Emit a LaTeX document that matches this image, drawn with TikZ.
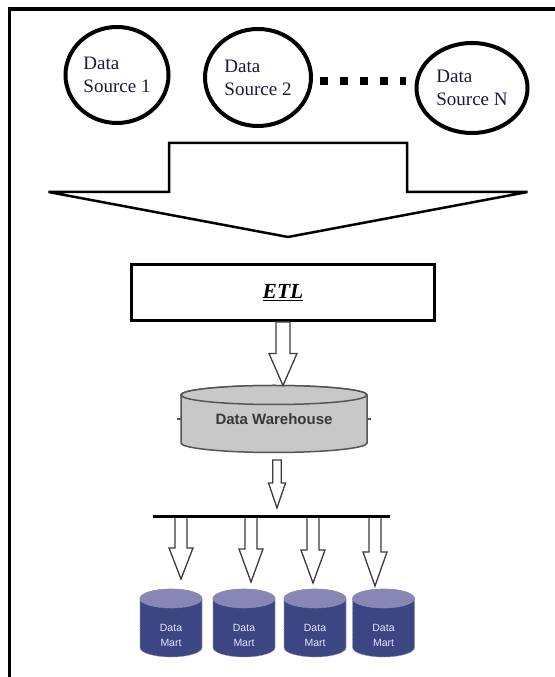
\documentclass[tikz,border=0pt]{standalone}
\usepackage{fontspec}
\setmainfont{Liberation Serif}
\newfontfamily\sansf{Liberation Sans}
\usetikzlibrary{shapes.geometric,calc,backgrounds}
\definecolor{srctext}{RGB}{25,25,60}
\definecolor{dwfill}{RGB}{200,200,200}
\definecolor{dwline}{RGB}{85,85,85}
\definecolor{martbody}{RGB}{60,70,130}
\definecolor{marttop}{RGB}{135,134,180}
\definecolor{martline}{RGB}{150,150,175}
\definecolor{arrline}{RGB}{60,60,60}

% #1 style, #2 start, #3 tip, #4 shaft half width, #5 head half width, #6 head length
\newcommand\blockarrow[6][]{%
  \draw[#1] let \p1=(#2), \p2=(#3) in
    (\x1-#4pt,\y1) -- (\x1-#4pt,\y2+#6pt) -- (\x1-#5pt,\y2+#6pt) -- (\x2,\y2)
    -- (\x1+#5pt,\y2+#6pt) -- (\x1+#4pt,\y2+#6pt) -- (\x1+#4pt,\y1) -- cycle;}

% #1 node, #2 rx, #3 top offset, #4 bottom offset, #5 ry, #6 body style, #7 top style
\newcommand\cylbg[7]{%
  \begin{scope}[on background layer]
    \path[#6] ($(#1.center)+(-#2,#3)$) -- ($(#1.center)+(-#2,#4)$)
      arc[start angle=180,end angle=360,x radius=#2,y radius=#5]
      -- ($(#1.center)+(#2,#3)$)
      arc[start angle=0,end angle=180,x radius=#2,y radius=#5] -- cycle;
    \path[#7] ($(#1.center)+(0,#3)$) ellipse[x radius=#2,y radius=#5];
  \end{scope}}

\begin{document}
\begin{tikzpicture}[x=1pt,y=1pt,
  src/.style={ellipse, draw, line width=4pt, inner sep=0pt, align=left,
    font=\fontsize{19}{23}\selectfont, text=srctext},
  dotsline/.style={line width=8pt, dash pattern=on 8pt off 12pt},
  bigarrow/.style={draw, line width=2.5pt, fill=white, line join=miter},
  hollowarrow/.style={draw=arrline, line width=1.3pt, fill=white, line join=miter},
  etlbox/.style={draw, line width=3pt, inner sep=0pt, minimum width=303pt,
    minimum height=56pt, font=\fontsize{21.5}{25}\selectfont},
  dwnode/.style={inner sep=0pt, minimum width=186pt, minimum height=48pt,
    font=\sansf\bfseries\fontsize{15}{18}\selectfont, text=black!78},
  dwbody/.style={fill=dwfill, draw=dwline, line width=1.5pt},
  martnode/.style={inner sep=0pt, align=center,
    font=\sansf\fontsize{10.5}{15}\selectfont, text=white!90!blue},
  martbody/.style={fill=martbody, draw=martline, line width=0.6pt, dash pattern=on 1.5pt off 1pt},
  marttop/.style={fill=marttop, draw=martline, line width=0.6pt, dash pattern=on 1.5pt off 1pt},
  busline/.style={line width=3pt},
  frame/.style={line width=3.5pt}]
\useasboundingbox (0,0) rectangle (554,677);

% frame
\draw[frame] (9.5,-3) -- (9.5,668) -- (560,668);

% sources
\node[src, minimum width=103pt, minimum height=96pt] (s1) at (117,602) {Data\\Source 1};
\node[src, minimum width=106pt, minimum height=97pt] (s2) at (258,599.5) {Data\\Source 2};
\node[src, minimum width=111pt, minimum height=90pt] (sN) at (472,589) {Data\\Source N};
\coordinate (d1) at ($(s2.east)+(7,-3.5)$);
\draw[dotsline, shorten >=8.5pt] (d1) -- (d1 -| sN.west);

% big arrow
\coordinate (bigtop) at (288,534);
\coordinate (bigtip) at (288,440);
\blockarrow[bigarrow]{bigtop}{bigtip}{119}{239.5}{45}

% ETL
\node[etlbox] (etl) at (283,384.5) {\underline{\textbf{\textit{ETL}}}};

% data warehouse
\node[dwnode] (dw) at (274,258) {Data Warehouse};
\cylbg{dw}{93}{24}{-24}{9.5}{dwbody}{dwbody}
\draw[dwline, line width=1.5pt] (dw.west) -- ++(-4,0);
\draw[dwline, line width=1.5pt] (dw.east) -- ++(4,0);

\coordinate (etltip) at (283,291.5);
\blockarrow[hollowarrow]{etl.south}{etltip}{7}{14}{32}

% arrow to bus
\coordinate (dwa) at (277,217);
\coordinate (dwb) at (277,169);
\blockarrow[hollowarrow]{dwa}{dwb}{4.2}{8.5}{25}

% bus
\coordinate (busL) at (153,160);
\coordinate (busR) at (390,160);
\coordinate (b1) at (181,160);
\coordinate (b2) at (251,160);
\coordinate (b3) at (313,160);
\coordinate (b4) at (375,160);
\coordinate (t1) at (181,98);
\coordinate (t2) at (251,95);
\coordinate (t3) at (313,94);
\coordinate (t4) at (375,91);
\blockarrow[hollowarrow]{b1}{t1}{6}{12}{31}
\blockarrow[hollowarrow]{b2}{t2}{6}{12}{33}
\blockarrow[hollowarrow]{b3}{t3}{6}{12}{33}
\blockarrow[hollowarrow]{b4}{t4}{6}{12}{34}
\draw[busline] (busL) -- (busR);

% data marts
\node[martnode] (m1) at (171,41.5) {Data\\Mart};
\node[martnode] (m2) at (244,41.5) {Data\\Mart};
\node[martnode] (m3) at (315,41.5) {Data\\Mart};
\node[martnode] (m4) at (383.5,41.5) {Data\\Mart};
\cylbg{m1}{31}{37}{-12}{9.5}{martbody}{marttop}
\cylbg{m2}{31}{37}{-12}{9.5}{martbody}{marttop}
\cylbg{m3}{31}{37}{-12}{9.5}{martbody}{marttop}
\cylbg{m4}{31}{37}{-12}{9.5}{martbody}{marttop}
\end{tikzpicture}
\end{document}
